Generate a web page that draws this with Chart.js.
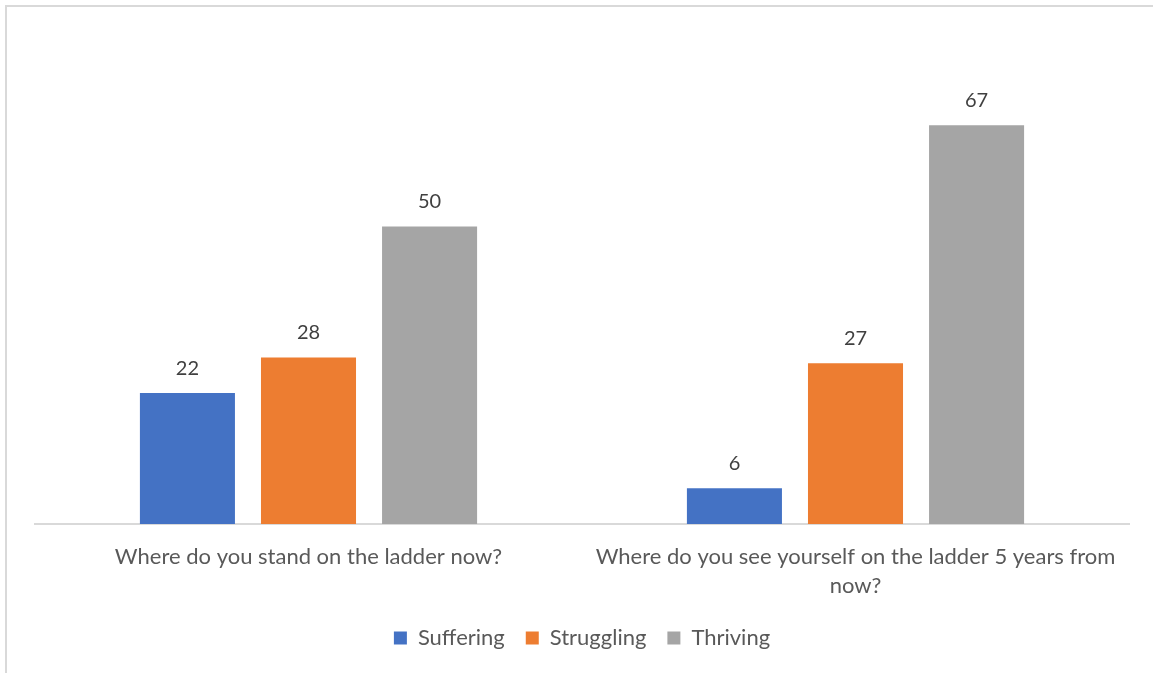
<!DOCTYPE html>
<html>
<head>
<meta charset="utf-8">
<script src="https://cdn.jsdelivr.net/npm/chart.js@4/dist/chart.umd.min.js"></script>
<style>
  html, body { margin: 0; padding: 0; background: #fff; overflow: hidden; }
  #wrap { position: relative; width: 1153px; height: 673px; }
</style>
</head>
<body>
<div id="wrap"><canvas id="c" width="1153" height="673"></canvas></div>
<script>
const categories = [
  ["Where do you stand on the ladder now?"],
  ["Where do you see yourself on the ladder 5 years from", "now?"]
];
const seriesNames = ["Suffering", "Struggling", "Thriving"];
const suffering = [22, 6];
const struggling = [28, 27];
const thriving = [50, 67];
const seriesColors = ["#4472C4", "#ED7D31", "#A5A5A5"];

const FONT = "Lato, 'Liberation Sans', sans-serif";

const frame = {
  id: 'frame',
  beforeDraw(chart) {
    const ctx = chart.ctx;
    ctx.save();
    ctx.fillStyle = '#fff';
    ctx.fillRect(0, 0, chart.width, chart.height);
    ctx.strokeStyle = '#d9d9d9';
    ctx.lineWidth = 2;
    ctx.strokeRect(6, 6, 1400, 1000);
    ctx.restore();
  }
};

const valueLabels = {
  id: 'valueLabels',
  afterDatasetsDraw(chart) {
    const ctx = chart.ctx;
    ctx.save();
    ctx.font = "20px " + FONT;
    ctx.fillStyle = '#404040';
    ctx.textAlign = 'center';
    ctx.textBaseline = 'middle';
    chart.data.datasets.forEach((ds, i) => {
      chart.getDatasetMeta(i).data.forEach((bar, j) => {
        ctx.fillText(String(ds.data[j]), bar.x, bar.y - 25);
      });
    });
    ctx.restore();
  }
};

new Chart(document.getElementById('c'), {
  type: 'bar',
  data: {
    labels: categories,
    datasets: [
      { label: seriesNames[0], data: suffering, backgroundColor: seriesColors[0] },
      { label: seriesNames[1], data: struggling, backgroundColor: seriesColors[1] },
      { label: seriesNames[2], data: thriving, backgroundColor: seriesColors[2] }
    ]
  },
  options: {
    responsive: false,
    animation: false,
    devicePixelRatio: 1,
    layout: { padding: { left: 35, right: 24, top: 48, bottom: 14 } },
    datasets: { bar: { categoryPercentage: 0.664, barPercentage: 0.785 } },
    scales: {
      y: { display: false, min: 0, max: 80 },
      x: {
        grid: { display: false, drawTicks: false },
        border: { display: true, color: '#d9d9d9', width: 2 },
        ticks: {
          color: '#595959',
          font: { family: FONT, size: 22, lineHeight: 1.32 },
          padding: 18,
          maxRotation: 0,
          autoSkip: false
        },
        afterFit(scale) { scale.height = 82; }
      }
    },
    plugins: {
      legend: {
        position: 'bottom',
        labels: {
          boxWidth: 13, boxHeight: 13, padding: 21,
          color: '#595959',
          font: { family: FONT, size: 22 }
        }
      },
      tooltip: { enabled: false }
    }
  },
  plugins: [frame, valueLabels]
});
</script>
</body>
</html>
